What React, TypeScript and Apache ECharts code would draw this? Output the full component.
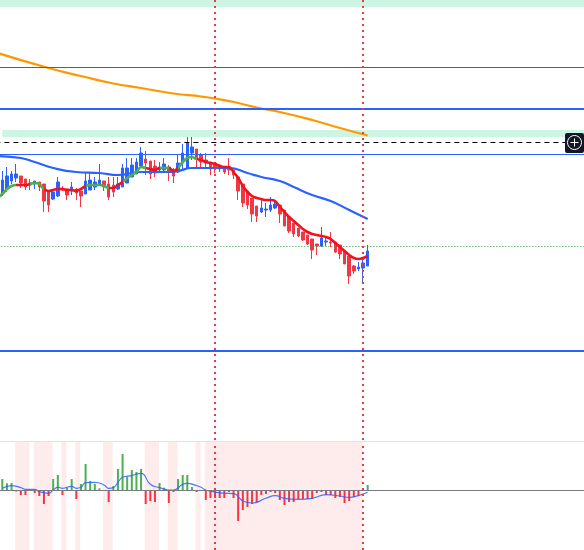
import React, { useEffect, useRef } from "react";
import * as echarts from "echarts";

// Candles as [open, close, wickEndNear, wickEndFar] on a top-down price scale.
const candles: number[][] = [
  [194,180,171,196],[189,176,167,192],[181,174,171,184],[178,174,164,182],[176,183,176,188],[179,187,179,190],[183,185,179,190],[184,181,181,189],
  [182,187,182,191],[184,201,184,212],[192,205,190,212],[199,192,190,200],[196,182,177,197],[188,190,186,191],[189,195,189,200],[191,187,182,195],
  [189,193,188,200],[191,196,191,207],[194,181,172,194],[190,180,172,190],[187,182,177,190],[185,180,164,186],[181,187,181,191],[184,197,177,200],
  [185,192,177,197],[189,184,177,190],[187,168,164,187],[183,168,158,183],[177,165,158,177],[174,162,158,174],[166,153,147,168],[159,163,151,175],
  [161,174,161,179],[166,173,160,177],[170,167,162,172],[170,164,158,172],[167,172,165,181],[170,176,168,183],[172,163,154,173],[163,153,144,170],
  [168,143,137,168],[153,147,137,160],[149,159,149,168],[155,162,153,167],[160,163,153,168],[162,169,162,175],[163,168,163,173],[165,169,165,172],
  [167,172,167,174],[167,170,158,175],[170,175,170,179],[177,191,177,200],[184,203,184,207],[191,205,191,209],[198,214,198,222],[206,216,206,222],
  [212,208,200,213],[210,209,203,217],[210,205,197,212],[208,204,200,209],[205,214,205,223],[210,226,210,226],[217,231,217,233],[223,234,223,237],
  [228,236,228,237],[232,240,232,241],[235,244,235,245],[239,250,239,259],[244,246,244,255],[246,238,227,247],[242,241,237,246],[242,243,232,247],
  [242,252,242,253],[245,254,245,259],[251,264,251,264],[256,276,256,284],[266,271,265,274],[269,267,262,271],[268,263,258,283],[266,251,245,266],
];
const trendLine: number[] = [
  198,194,189,186,185,185,185,184,183,184,189,191,190,189,189,190,190,191,189,186,185,185,185,186,188,188,185,182,178,175,172,167,168,169,170,168,168,168,171,168,162,158,157,
  159,160,162,163,164,166,167,167,172,178,186,192,196,198,199,200,200,201,207,212,217,221,225,229,232,234,235,236,237,239,243,247,251,255,258,259,258,256,
];
const trendRed: number[][] = [[3,5],[9,17],[23,25],[31,33],[36,37],[42,79]];
const slowIdx = [-1,4,7,11,16,21,25,30,36,38,41,46,49,53,56,60,63,67,71,75,79];
const slowVal = [156,158,162,168,172,173,175,172,172,171,168,168,168,173,177,181,187,195,201,210,219];
const longIdx = [-1,10,17,24,30,37,43,46,50,55,60,67,73,79];
const longVal = [53,68,76,83.5,88,93.5,96.5,98.5,102,107.5,112,120,128,135.5];
const histogram: number[] = [
  11.3,7,7.3,-1.3,-4.7,-4.7,0.3,-2.7,-5.7,-13.7,-5.7,11.3,15.3,-4.7,2.7,11.3,-8.7,6.3,26.3,9.3,6.3,2,-0.3,-11.7,4.3,21.3,36.3,13.7,20.3,18.3,21.3,
  -13.7,-10.7,-11.7,7.3,2.7,-12.7,-1.7,11.3,15.3,15.3,3.3,-1.7,0.3,-9.7,-7.7,-7.7,-7.7,-7.7,-1.7,-7.7,-30.7,-19.7,-16.7,-13.7,-11.7,-4.7,-3.7,-1.7,-2.7,-9.7,
  -14.7,-11.7,-11.7,-8.7,-8.7,-8.7,-8.7,-2.7,-1.7,-4.7,-4.7,-7.7,-6.7,-12.7,-10.7,-6.7,-5.7,2,5.3,
];
const signalIdx = [0,2,4,5,7,8,10,11,12,13,15,16,17,18,20,22,23,24,25,26,28,30,32,34,36,37,39,40,42,43,44,48,50,52,54,57,59,61,64,67,70,73,75,77,79];
const signalVal = [2,4.7,2.7,1,1,-1.3,-3,0.3,3,2,4,2,3,7.7,8,5.3,2,2.7,8,13,14.7,17,6,2.7,0.3,0.3,6,7,4.7,3,0.3,-3,-3.3,-10.7,-12.7,-8,-5.3,-8,-9,-8,-4.3,-5.7,-7,-5.3,-2];
const greenBands = [[0,7],[130,137]];
const levels = { upper: 67, blueThick: 109, dashed: 142, blueThin: 154, dotted: 246, blueLow: 351 };
const cursorCandles = [46,78];

const PAD = 1;
const SLOTS = 128;
const BLUE = "#2962ff";
const RED = "#f23645";
const GREEN = "#4caf50";

export default function App() {
  const ref = useRef<HTMLDivElement>(null);
  useEffect(() => {
    document.body.style.margin = "0";
    const chart = echarts.init(ref.current!, null, { renderer: "svg" });
    const cats = Array.from({ length: SLOTS }, (_, i) => String(i - PAD));
    const vLines = cursorCandles.map((i) => ({ xAxis: i + PAD }));
    const hLine = (y: number, color: string, width: number, type: any) => ({
      yAxis: y,
      lineStyle: { color, width, type, opacity: 1 },
    });
    const noMark = { symbol: ["none", "none"], label: { show: false }, silent: true, animation: false };
    chart.setOption({
      animation: false,
      grid: [
        { left: -4.625, top: 0, width: 592, height: 440, outerBoundsMode: "none" },
        { left: -4.625, top: 441, width: 592, height: 109, outerBoundsMode: "none" },
      ],
      xAxis: [0, 1].map((g) => ({
        type: "category", gridIndex: g, data: cats, show: false, boundaryGap: true,
      })),
      yAxis: [
        { type: "value", gridIndex: 0, inverse: true, min: 0, max: 440, show: false },
        { type: "value", gridIndex: 1, min: -59.7, max: 49.3, show: false },
        { type: "value", gridIndex: 1, min: 0, max: 1, show: false },
      ],
      visualMap: {
        show: false,
        seriesIndex: 3,
        dimension: 0,
        pieces: trendRed.map(([a, b]) => ({ gte: a + PAD - 0.5, lt: b + PAD + 0.5, color: "#f5101c" })),
        outOfRange: { color: GREEN },
      },
      series: [
        {
          type: "line", xAxisIndex: 0, yAxisIndex: 0, data: [], silent: true, z: 1,
          markArea: {
            silent: true,
            itemStyle: { color: "#ccf5e3" },
            data: [
              [{ xAxis: 0, yAxis: greenBands[0][0] }, { xAxis: SLOTS - 1, yAxis: greenBands[0][1] }],
              [{ xAxis: 1, yAxis: greenBands[1][0] }, { xAxis: SLOTS - 1, yAxis: greenBands[1][1] }],
            ],
          },
          markLine: {
            ...noMark,
            data: [
              hLine(levels.upper, "#3a5fc8", 1, "solid"),
              hLine(levels.blueThick, BLUE, 2, "solid"),
              hLine(levels.dashed, "#000000", 1, [5, 4]),
              hLine(levels.blueThin, BLUE, 1, "solid"),
              hLine(levels.dotted, "#2e9e3f", 1, [1, 2]),
              hLine(levels.blueLow, BLUE, 2, "solid"),
            ],
          },
        },
        {
          type: "candlestick", xAxisIndex: 0, yAxisIndex: 0, z: 3,
          barWidth: 3,
          data: [["-", "-", "-", "-"], ...candles],
          itemStyle: { color: RED, color0: BLUE, borderColor: RED, borderColor0: BLUE, borderWidth: 1 },
        },
        {
          type: "line", xAxisIndex: 0, yAxisIndex: 0, z: 4, showSymbol: false, smooth: true,
          data: slowIdx.map((x, i) => [x + PAD, slowVal[i]]),
          lineStyle: { color: BLUE, width: 2.2, opacity: 1 },
        },
        {
          type: "line", xAxisIndex: 0, yAxisIndex: 0, z: 5, showSymbol: false, smooth: 0.3,
          data: trendLine,
          lineStyle: { width: 2.6 },
        },
        {
          type: "line", xAxisIndex: 0, yAxisIndex: 0, z: 4, showSymbol: false, smooth: true,
          data: longIdx.map((x, i) => [x + PAD, longVal[i]]),
          lineStyle: { color: "#ff9800", width: 2.2 },
        },
        {
          type: "bar", xAxisIndex: 1, yAxisIndex: 2, z: 1, barWidth: 5, barGap: "-100%", silent: true,
          data: ["-", ...histogram.map((v) => (v < 0 ? 1 : "-"))],
          itemStyle: { color: "#feebec" },
        },
        {
          type: "bar", xAxisIndex: 1, yAxisIndex: 1, z: 3, barWidth: 2, barGap: "-100%", silent: true,
          data: ["-", ...histogram.map((v) => ({ value: v, itemStyle: { color: v < 0 ? RED : GREEN } }))],
          markLine: {
            ...noMark,
            data: [hLine(0, "#787b86", 1, "solid")],
          },
        },
        {
          type: "line", xAxisIndex: 1, yAxisIndex: 1, z: 4, showSymbol: false, smooth: true,
          data: signalIdx.map((x, i) => [x + PAD, signalVal[i]]),
          lineStyle: { color: BLUE, width: 1.2, opacity: 0.85 },
        },
        {
          type: "line", xAxisIndex: 0, yAxisIndex: 0, data: [], z: 6, silent: true,
          markLine: {
            ...noMark,
            data: vLines.map((d) => ({ ...d, lineStyle: { color: RED, width: 2, type: [2, 4], opacity: 1 } })),
          },
        },
        {
          type: "line", xAxisIndex: 1, yAxisIndex: 1, data: [], z: 6, silent: true,
          markLine: {
            ...noMark,
            data: vLines.map((d) => ({ ...d, lineStyle: { color: RED, width: 2, type: [2, 4], opacity: 1 } })),
          },
        },
      ],
      graphic: [
        { type: "line", z: 10, shape: { x1: 0, y1: 441.5, x2: 584, y2: 441.5 }, style: { stroke: "#e0e3eb", lineWidth: 1 } },
        { type: "rect", z: 20, shape: { x: 565, y: 133, width: 19, height: 20, r: 2 }, style: { fill: "#131722" } },
        { type: "circle", z: 21, shape: { cx: 574.5, cy: 142.5, r: 7 }, style: { fill: "transparent", stroke: "#ffffff", lineWidth: 1 } },
        { type: "line", z: 21, shape: { x1: 570.5, y1: 142.5, x2: 578.5, y2: 142.5 }, style: { stroke: "#ffffff", lineWidth: 1 } },
        { type: "line", z: 21, shape: { x1: 574.5, y1: 138.5, x2: 574.5, y2: 146.5 }, style: { stroke: "#ffffff", lineWidth: 1 } },
      ],
    });
    return () => chart.dispose();
  }, []);
  return <div ref={ref} style={{ position: "absolute", left: 0, top: 0, width: 584, height: 550 }} />;
}
